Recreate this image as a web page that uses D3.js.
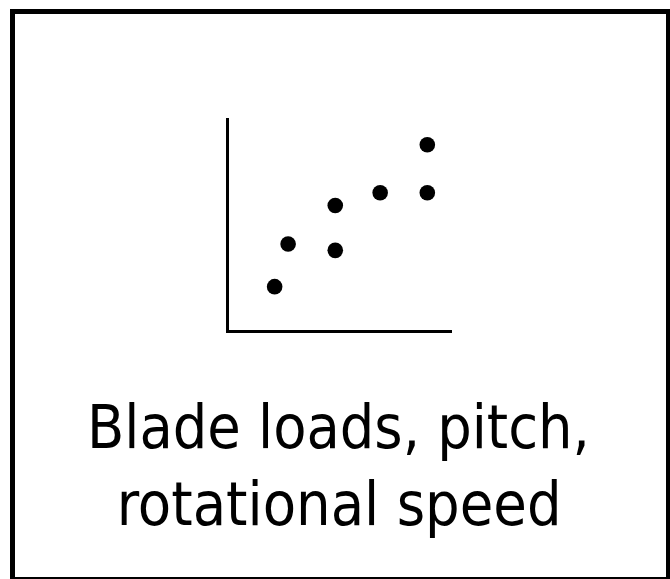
<!DOCTYPE html>
<html>
<head>
<meta charset="utf-8">
<script src="https://cdn.jsdelivr.net/npm/d3@7"></script>
<style>
  html, body { margin: 0; padding: 0; background: #fff; }
  svg { display: block; }
</style>
</head>
<body>
<svg id="chart" width="670" height="579"></svg>
<script>
// Data
const pointX = [2.1, 2.7, 4.8, 4.8, 6.8, 8.9, 8.9];
const pointY = [2.1, 4.1, 5.9, 3.8, 6.5, 6.5, 8.75];
const titleLines = ["Blade loads, pitch,", "rotational speed"];

const svg = d3.select("#chart");

// Frame
svg.append("rect")
  .attr("x", 12.5).attr("y", 11.5)
  .attr("width", 656).attr("height", 568)
  .attr("fill", "#fff").attr("stroke", "#000").attr("stroke-width", 5);

const x = d3.scaleLinear().domain([0, 10]).range([227.5, 452]);
const y = d3.scaleLinear().domain([0, 10]).range([331.5, 118]);

// Axes (no ticks) drawn from scales
svg.append("path")
  .attr("d", `M${x(0)},${y(10)}V${y(0)}H${x(10)}`)
  .attr("fill", "none").attr("stroke", "#000").attr("stroke-width", 3)
  .attr("stroke-linejoin", "miter");

// Points
svg.append("g").selectAll("circle")
  .data(pointX.map((v, i) => [v, pointY[i]]))
  .join("circle")
  .attr("cx", d => x(d[0]))
  .attr("cy", d => y(d[1]))
  .attr("r", 7.8)
  .attr("fill", "#000");

// Title: font size fitted to the reference line width
const lineSpecs = [{ cx: 338.4, base: 448.3, w: 503 }, { cx: 339.2, base: 525, w: 445 }];
const t = svg.append("g");
titleLines.forEach((s, i) => {
  const txt = t.append("text")
    .attr("x", lineSpecs[i].cx)
    .attr("y", lineSpecs[i].base)
    .attr("text-anchor", "middle")
    .attr("font-family", "'DejaVu Sans Condensed', 'DejaVu Sans', sans-serif")
    .attr("font-stretch", "condensed")
    .attr("font-size", 64)
    .attr("fill", "#000")
    .text(s);
  const w = txt.node().getComputedTextLength();
  if (w > 0) txt.attr("font-size", 64 * lineSpecs[i].w / w);
});
</script>
</body>
</html>
